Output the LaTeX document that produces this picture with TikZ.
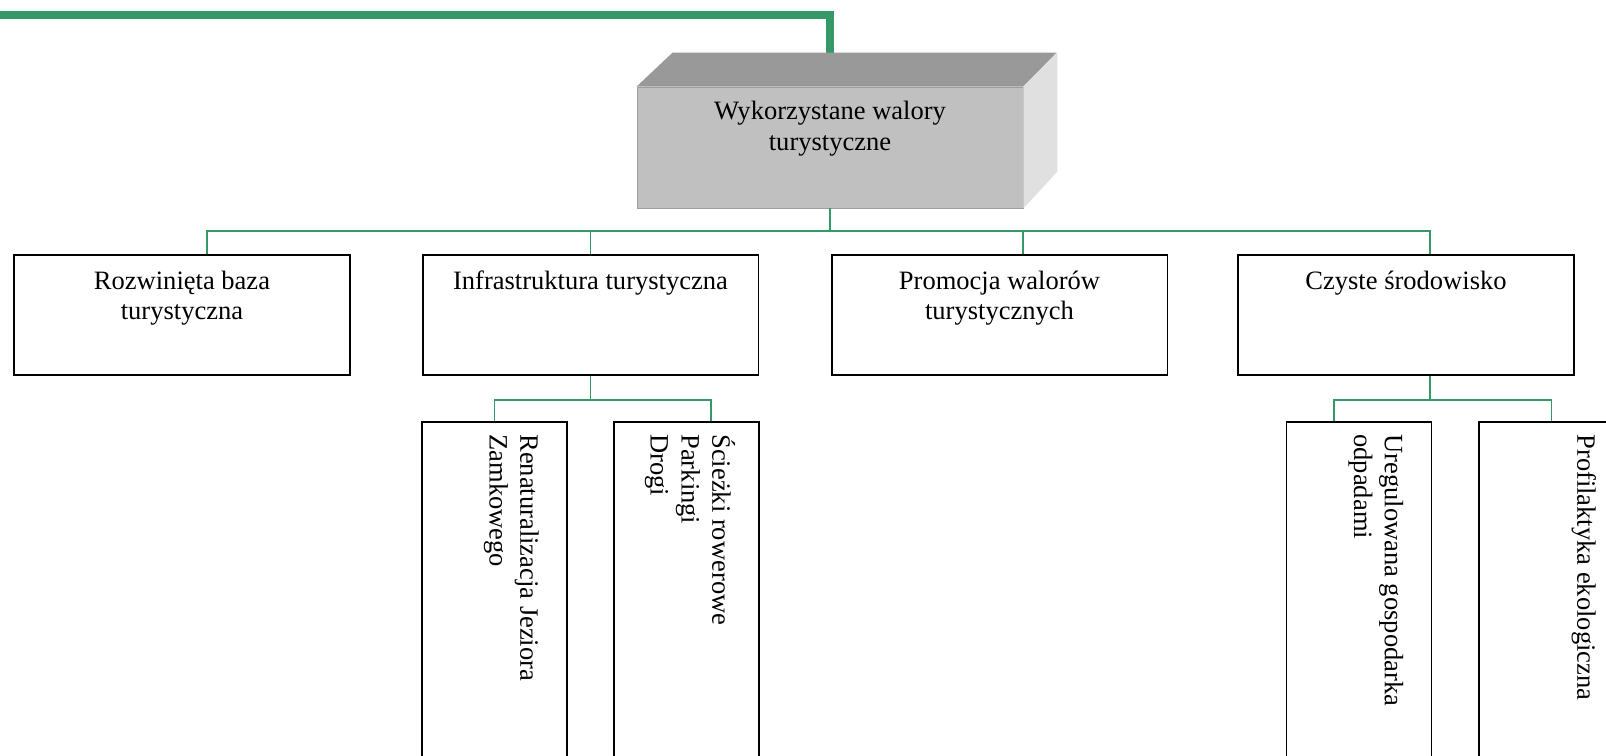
\documentclass[tikz,border=0pt]{standalone}
\usepackage{fontspec}
\setmainfont{Liberation Serif}
\definecolor{lgreen}{HTML}{339966}
\definecolor{topface}{HTML}{999999}
\definecolor{frontface}{HTML}{C0C0C0}
\definecolor{sideface}{HTML}{E0E0E0}
\newcommand{\mylines}[2]{\begin{tabular}[t]{@{}#1@{}}#2\end{tabular}}
\tikzset{
  txt/.style={font=\fontsize{15.1pt}{17.6pt}\selectfont, inner sep=0pt},
  rowbox/.style={draw=black, line width=1.1pt, minimum width=6.72cm, minimum height=2.4cm, inner sep=0pt},
  subbox/.style={draw=black, line width=1.1pt, minimum width=2.9cm, minimum height=8cm, inner sep=0pt},
  conn/.style={draw=lgreen, line width=1.1pt},
  thick conn/.style={draw=lgreen, line width=4.5pt},
  vtext/.style={txt, rotate=-90, anchor=base west},
  htext/.style={txt, anchor=base},
}
\begin{document}
\begin{tikzpicture}[x=0.02cm, y=-0.02cm]
\useasboundingbox (0,0) rectangle (1606,756);
\clip (0,0) rectangle (1606,756);
% thick green line at the top
\coordinate (tl) at (0,15);
\coordinate (tc) at (830,15);
\coordinate (tb) at (830,53);
\draw[thick conn] (tl) -- (tc) -- (tb);
% 3D box
\node[fill=frontface, draw=gray!75, line width=0.5pt, minimum width=7.72cm, minimum height=2.42cm, inner sep=0pt] (top) at (830,147.5) {};
\fill[topface] (top.north west) -- ++(36,-34) -- ++(384,0) -- (top.north east) -- cycle;
\fill[sideface] (top.north east) -- ++(34,-34) -- ++(0,119) -- (top.south east) -- cycle;
\node[htext] (toptxt) at ([yshift=-0.66cm]top.north) {\mylines{c}{Wykorzystane walory\\turystyczne}};
% row boxes
\node[rowbox] (b1) at (182,315) {};
\node[rowbox] (b2) at (590.5,315) {};
\node[rowbox] (b3) at (999.5,315) {};
\node[rowbox] (b4) at (1406,315) {};
\node[htext] (t1) at ([yshift=-0.7cm]b1.north) {\mylines{c}{Rozwinięta baza\\turystyczna}};
\node[htext] (t2) at ([yshift=-0.7cm]b2.north) {\mylines{c}{Infrastruktura turystyczna}};
\node[htext] (t3) at ([yshift=-0.7cm]b3.north) {\mylines{c}{Promocja walorów\\turystycznych}};
\node[htext] (t4) at ([yshift=-0.7cm]b4.north) {\mylines{c}{Czyste środowisko}};
% sub boxes
\node[subbox] (sA) at (494.5,622) {};
\node[subbox] (sB) at (686.5,622) {};
\node[subbox] (sC) at (1359,622) {};
\node[subbox] (sD) at (1551.5,622) {};
\node[vtext] (tA) at ([xshift=-0.95cm, yshift=-0.26cm]sA.north east) {\mylines{l}{Renaturalizacja Jeziora\\Zamkowego}};
\node[vtext] (tB) at ([xshift=-0.95cm, yshift=-0.26cm]sB.north east) {\mylines{l}{Ścieżki rowerowe\\Parkingi\\Drogi}};
\node[vtext] (tC) at ([xshift=-0.95cm, yshift=-0.26cm]sC.north east) {\mylines{l}{Uregulowana gospodarka\\odpadami}};
\node[vtext] (tD) at ([xshift=-0.95cm, yshift=-0.26cm]sD.north east) {\mylines{l}{Profilaktyka ekologiczna}};
% connectors, first level
\coordinate (bar) at (830,231);
\draw[conn] (top.south) -- (bar);
\draw[conn] ([xshift=0.5cm]b1.north) |- (bar);
\draw[conn] (b2.north) |- (bar);
\draw[conn] ([xshift=0.47cm]b3.north) |- (bar);
\draw[conn] ([xshift=0.48cm]b4.north) |- (bar);
% connectors, second level
\coordinate (j2) at ([yshift=-0.48cm]b2.south);
\draw[conn] (b2.south) -- (j2);
\draw[conn] (sA.north) |- (j2);
\draw[conn] ([xshift=0.49cm]sB.north) |- (j2);
\coordinate (j4) at ([xshift=0.48cm, yshift=-0.48cm]b4.south);
\draw[conn] ([xshift=0.48cm]b4.south) -- (j4);
\draw[conn] ([xshift=-0.5cm]sC.north) |- (j4);
\draw[conn] (sD.north) |- (j4);
\end{tikzpicture}
\end{document}
